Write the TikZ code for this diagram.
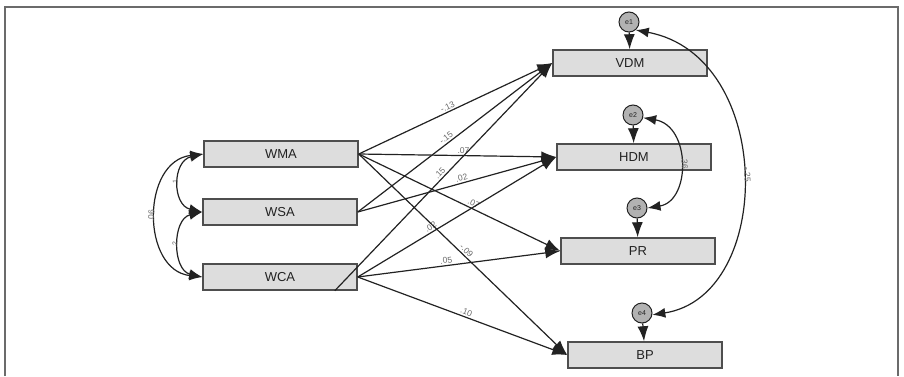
\documentclass[tikz,border=0pt]{standalone}
\usepackage{fontspec}
\setmainfont{Liberation Sans}
\usetikzlibrary{arrows.meta}
\definecolor{Frame}{HTML}{6B6B6B}
\definecolor{BoxFill}{HTML}{DDDDDD}
\definecolor{Ink}{HTML}{222222}
\definecolor{Coef}{HTML}{6A6A6A}

\begin{document}
\begin{tikzpicture}[x=1pt,y=1pt,every node/.style={text=Ink},
  var/.style={draw=Ink!80,fill=BoxFill,line width=1.5pt,minimum width=154pt,minimum height=26pt,inner sep=0pt,font=\fontsize{13}{13}\selectfont},
  err/.style={circle,draw=Ink,fill=black!30,line width=1pt,minimum size=20pt,inner sep=0pt,font=\fontsize{7}{7}\selectfont},
  reg/.style={draw=Ink,line width=1.2pt,-{Latex[length=15pt,width=11pt]}},
  cov/.style={draw=Ink,line width=1.2pt,{Latex[length=13pt,width=10pt]}-{Latex[length=13pt,width=10pt]}},
  coef/.style={font=\fontsize{8.5}{8.5}\selectfont,text=Coef,sloped,above,inner sep=1.5pt}]
\useasboundingbox (0,0) rectangle (904,376);
\draw[Frame,line width=2.5pt] (5,0) -- (5,369) -- (898,369) -- (898,0);

% predictors
\node[var] (WMA) at (281,222) {WMA};
\node[var] (WSA) at (280,164) {WSA};
\node[var] (WCA) at (280,99) {WCA};
% outcomes and their errors
\node[var] (VDM) at (630,313) {VDM};
\node[var] (HDM) at (634,219) {HDM};
\node[var] (PR) at (638,125) {PR};
\node[var] (BP) at (645,21) {BP};
\node[err] (e1) at (629,354) {e1};
\node[err] (e2) at (633,261) {e2};
\node[err] (e3) at (637,168) {e3};
\node[err] (e4) at (642,63) {e4};

\foreach \e/\b in {e1/VDM,e2/HDM,e3/PR,e4/BP}{\draw[reg] (\e) -- (\b);}
\foreach \s/\t/\v/\p in {WMA/VDM/-.13/0.47,WSA/VDM/-.15/0.47,WMA/HDM/.07/0.53,WSA/HDM/.02/0.53,WMA/PR/.07/0.56,WCA/HDM/.02/0.38,WMA/BP/-.09/0.5,WCA/PR/.05/0.44,WCA/BP/.10/0.51}
  {\draw[reg] (\s.east) -- node[coef,pos=\p]{\v} (\t.west);}
\coordinate (wcaout) at ([xshift=-23pt]WCA.south east);
\draw[reg] (wcaout) -- node[coef,pos=0.5]{.15} (VDM.west);

% covariances
\draw[cov] (WCA.west) .. controls (141,106) and (141,215) .. node[coef]{.06} (WMA.west);
\draw[cov] (WSA.west) .. controls (172,171) and (172,215) .. node[coef,font=\fontsize{7}{7}\selectfont]{.1} (WMA.west);
\draw[cov] (WCA.west) .. controls (172,106) and (172,157) .. node[coef,font=\fontsize{7}{7}\selectfont]{.2} (WSA.west);
\draw[cov] (e2.-15) .. controls (691,250) and (691,175) .. node[coef]{.36} (e3.east);
\draw[cov] (e1.-50) .. controls (775,320) and (775,80) .. node[coef]{-.25} (e4.-10);
\end{tikzpicture}
\end{document}
